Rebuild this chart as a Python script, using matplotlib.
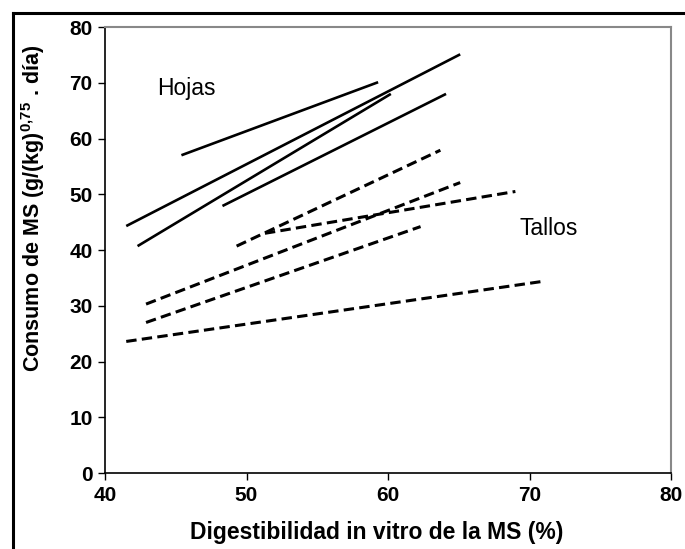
import matplotlib
matplotlib.use("Agg")
import matplotlib.pyplot as plt
from matplotlib.lines import Line2D

plt.rcParams["font.family"] = ["Liberation Sans", "DejaVu Sans"]
plt.rcParams["mathtext.fontset"] = "custom"
plt.rcParams["mathtext.rm"] = "Liberation Sans"
plt.rcParams["mathtext.bf"] = "Liberation Sans:bold"
plt.rcParams["lines.scale_dashes"] = False

# Hojas (solid lines): [x_start, x_end], [y_start, y_end]
hojas_x = [[45.4, 59.3], [41.5, 65.1], [42.3, 60.2], [48.3, 64.1]]
hojas_y = [[57.0, 70.1], [44.3, 75.1], [40.7, 68.0], [47.9, 68.0]]

# Tallos (dashed lines)
tallos_x = [[49.3, 63.7], [42.9, 65.1], [42.9, 62.3], [41.5, 71.0], [51.3, 69.0]]
tallos_y = [[40.7, 57.9], [30.3, 52.1], [27.0, 44.2], [23.6, 34.4], [43.0, 50.5]]

xticks = [40, 50, 60, 70, 80]
yticks = [0, 10, 20, 30, 40, 50, 60, 70, 80]

fig = plt.figure(figsize=(6.85, 5.49), dpi=100)
ax = fig.add_axes([0.1533, 0.1384, 0.8263, 0.8124])

for xs, ys in zip(hojas_x, hojas_y):
    ax.plot(xs, ys, color="black", lw=1.9, solid_capstyle="butt")
for xs, ys in zip(tallos_x, tallos_y):
    ax.plot(xs, ys, color="black", lw=2.2, dashes=(7.5, 3.8), dash_capstyle="butt")

ax.text(43.7, 68.9, "Hojas", fontsize=16.5, va="center", ha="left")
ax.text(69.3, 43.9, "Tallos", fontsize=16.5, va="center", ha="left")

ax.set_xlim(40, 80)
ax.set_ylim(0, 80)
ax.set_xticks(xticks)
ax.set_yticks(yticks)
ax.tick_params(direction="out", length=5, width=1, labelsize=15, pad=4)
for lab in ax.get_xticklabels() + ax.get_yticklabels():
    lab.set_fontweight("bold")

for side in ["left", "bottom"]:
    ax.spines[side].set_color("black")
    ax.spines[side].set_linewidth(1.2)
for side in ["top", "right"]:
    ax.spines[side].set_color("#888888")
    ax.spines[side].set_linewidth(1.5)

ax.set_xlabel("Digestibilidad in vitro de la MS (%)", fontsize=16.5, fontweight="bold")
ax.set_ylabel("Consumo de MS (g/(kg)$^{\\mathbf{0{,}75}}$ . día)", fontsize=15.5, fontweight="bold")
ax.xaxis.set_label_coords(0.48, -0.108)
ax.yaxis.set_label_coords(-0.103, 0.594)

# outer frame (top and left edges)
fig.add_artist(Line2D([13 / 685, 13 / 685], [0, 1 - 13 / 549], transform=fig.transFigure,
                      color="black", lw=2.2))
fig.add_artist(Line2D([13 / 685, 1], [1 - 13 / 549, 1 - 13 / 549], transform=fig.transFigure,
                      color="black", lw=2.2))

fig.savefig("out.png", dpi=100)
